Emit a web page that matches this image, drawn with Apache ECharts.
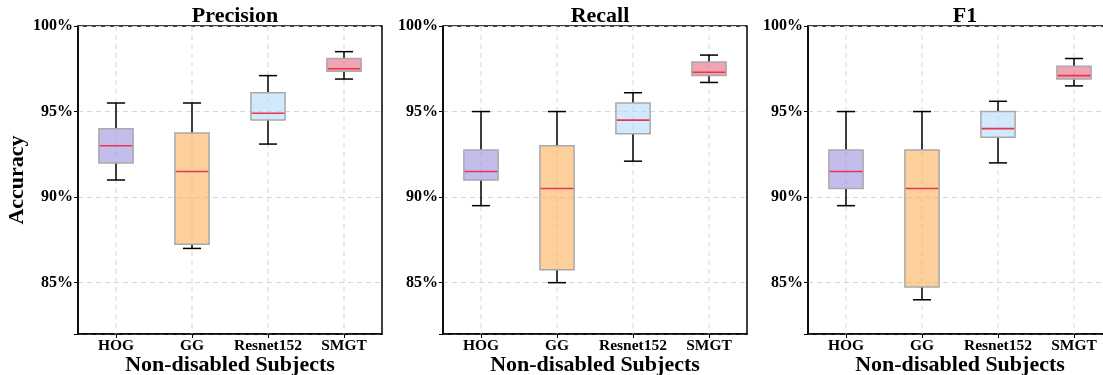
<!DOCTYPE html>
<html>
<head>
<meta charset="utf-8">
<script src="https://cdn.jsdelivr.net/npm/echarts@6/dist/echarts.min.js"></script>
<style>
html,body{margin:0;padding:0;background:#fff;}
#chart{width:1103px;height:375px;}
</style>
</head>
<body>
<div id="chart"></div>
<script>
// ---- data ----
const categories = ['HOG', 'GG', 'Resnet152', 'SMGT'];
const panelTitles = ['Precision', 'Recall', 'F1'];
// each item: [low whisker, Q1, median, Q3, high whisker]
const precision = [
  [91.0, 92.0, 93.0, 94.0, 95.5],
  [87.0, 87.25, 91.5, 93.75, 95.5],
  [93.1, 94.5, 94.9, 96.1, 97.1],
  [96.9, 97.35, 97.5, 98.1, 98.5]
];
const recall = [
  [89.5, 91.0, 91.5, 92.75, 95.0],
  [85.0, 85.75, 90.5, 93.0, 95.0],
  [92.1, 93.7, 94.5, 95.5, 96.1],
  [96.7, 97.1, 97.3, 97.9, 98.3]
];
const f1 = [
  [89.5, 90.5, 91.5, 92.75, 95.0],
  [84.0, 84.75, 90.5, 92.75, 95.0],
  [92.0, 93.5, 94.0, 95.0, 95.6],
  [96.5, 96.9, 97.1, 97.65, 98.1]
];
const yMin = 82, yMax = 100;

// ---- styling ----
const FONT = "'Liberation Serif', 'Times New Roman', serif";
const boxFills = ['rgba(155,145,223,0.6)', 'rgba(252,177,88,0.6)', 'rgba(178,218,248,0.6)', 'rgba(230,102,128,0.6)'];
const gridLeft = [78, 443, 808];
const panels = [precision, recall, f1];

function renderItem(params, api) {
  const ci = api.value(0);
  const low = api.value(1), q1 = api.value(2), med = api.value(3), q3 = api.value(4), high = api.value(5);
  const band = api.size([1, 0])[0];
  const bw = band * 0.45, cw = bw * 0.53;
  const pLow = api.coord([ci, low]), pQ1 = api.coord([ci, q1]), pMed = api.coord([ci, med]);
  const pQ3 = api.coord([ci, q3]), pHigh = api.coord([ci, high]);
  const gTop = api.coord([ci, yMax]), gBot = api.coord([ci, yMin]);
  const x = pMed[0];
  const blk = { stroke: '#000', lineWidth: 1.5 };
  return {
    type: 'group',
    children: [
      { type: 'line', shape: { x1: x, y1: gTop[1], x2: x, y2: gBot[1] },
        style: { stroke: '#d6d6d6', lineWidth: 1, lineDash: [5, 4] } },
      { type: 'line', shape: { x1: x, y1: pLow[1], x2: x, y2: pQ1[1] }, style: blk },
      { type: 'line', shape: { x1: x, y1: pQ3[1], x2: x, y2: pHigh[1] }, style: blk },
      { type: 'line', shape: { x1: x - cw / 2, y1: pLow[1], x2: x + cw / 2, y2: pLow[1] }, style: blk },
      { type: 'line', shape: { x1: x - cw / 2, y1: pHigh[1], x2: x + cw / 2, y2: pHigh[1] }, style: blk },
      { type: 'rect', shape: { x: x - bw / 2, y: pQ3[1], width: bw, height: pQ1[1] - pQ3[1] },
        style: { fill: boxFills[ci], stroke: '#a9a9a9', lineWidth: 1.5 } },
      { type: 'line', shape: { x1: x - bw / 2 + 0.75, y1: pMed[1], x2: x + bw / 2 - 0.75, y2: pMed[1] },
        style: { stroke: '#e8344e', lineWidth: 1.6 } }
    ]
  };
}

const option = {
  backgroundColor: '#fff',
  animation: false,
  title: panelTitles.map((t, i) => ({
    text: t,
    left: gridLeft[i] + 152,
    top: 0,
    textAlign: 'center',
    textStyle: { fontFamily: FONT, fontWeight: 'bold', fontSize: 22, color: '#000' }
  })),
  grid: gridLeft.map(l => ({
    left: l, top: 26, width: 304, height: 308,
    outerBoundsMode: 'none',
    containLabel: false,
    show: true, borderColor: '#000', borderWidth: 1.5, backgroundColor: 'transparent'
  })),
  xAxis: gridLeft.map((l, i) => ({
    type: 'category',
    gridIndex: i,
    data: categories,
    boundaryGap: true,
    name: 'Non-disabled Subjects',
    nameLocation: 'middle',
    nameGap: 20,
    nameMoveOverlap: false,
    nameTextStyle: { fontFamily: FONT, fontWeight: 'bold', fontSize: 22, color: '#000' },
    axisLine: { show: true, lineStyle: { color: '#000', width: 1.5 } },
    axisTick: { show: true, alignWithLabel: true, length: 4, lineStyle: { color: '#000', width: 1 } },
    axisLabel: { interval: 0, hideOverlap: false, fontFamily: FONT, fontWeight: 'bold', fontSize: 15.5, color: '#000', margin: 4 },
    splitLine: { show: false }
  })),
  yAxis: gridLeft.map((l, i) => ({
    type: 'value',
    gridIndex: i,
    min: yMin, max: yMax,
    splitNumber: 4,
    name: i === 0 ? 'Accuracy' : '',
    nameLocation: 'middle',
    nameRotate: 90,
    nameGap: 50,
    nameMoveOverlap: false,
    nameTextStyle: { fontFamily: FONT, fontWeight: 'bold', fontSize: 22, color: '#000' },
    axisLine: { show: true, lineStyle: { color: '#000', width: 1.5 } },
    axisTick: { show: true, length: 4, lineStyle: { color: '#000', width: 1 } },
    axisLabel: {
      fontFamily: FONT, fontWeight: 'bold', fontSize: 16, color: '#000', margin: 5,
      formatter: v => (v % 5 === 0 ? v + '%' : '')
    },
    splitLine: { show: true, lineStyle: { color: '#d6d6d6', width: 1, type: [5, 4] } }
  })),
  series: panels.map((d, i) => ({
    type: 'custom',
    xAxisIndex: i,
    yAxisIndex: i,
    renderItem: renderItem,
    encode: { x: 0, y: [1, 2, 3, 4, 5] },
    data: d.map((v, ci) => [ci].concat(v))
  }))
};

const chart = echarts.init(document.getElementById('chart'), null, { renderer: 'canvas' });
chart.setOption(option);
</script>
</body>
</html>
